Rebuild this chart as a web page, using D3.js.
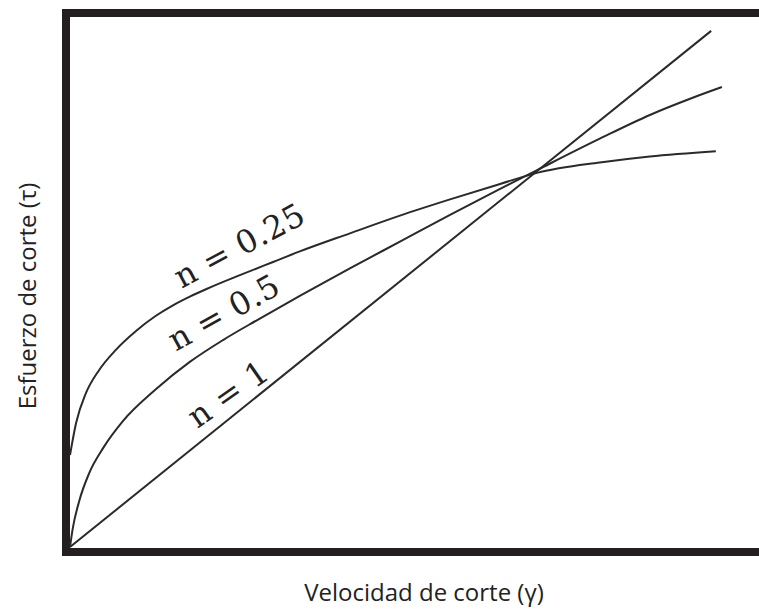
<!DOCTYPE html>
<html>
<head>
<meta charset="utf-8">
<script src="https://cdn.jsdelivr.net/npm/d3@7"></script>
<style>
    body { margin: 0; background: #fff; }
</style>
</head>
<body>
<div id="chart"></div>
<script>
// shear rate (gamma) and shear stress (tau)
const rate025 = [0, 0.013, 0.034, 0.062, 0.098, 0.141, 0.182, 0.220, 0.256, 0.293, 0.363, 0.434, 0.491, 0.598, 0.705, 0.812, 0.919, 1.000, 1.132, 1.239, 1.380]
const stress025 = [0.244, 0.329, 0.408, 0.469, 0.523, 0.573, 0.612, 0.641, 0.664, 0.685, 0.721, 0.756, 0.784, 0.832, 0.879, 0.922, 0.963, 0.993, 1.020, 1.036, 1.050]

const rate05 = [0, 0.006, 0.019, 0.041, 0.071, 0.113, 0.184, 0.256, 0.327, 0.400, 0.491, 0.598, 0.705, 0.812, 0.919, 1.000, 1.132, 1.239, 1.325, 1.393]
const stress05 = [0, 0.050, 0.119, 0.196, 0.263, 0.334, 0.419, 0.491, 0.549, 0.602, 0.666, 0.739, 0.810, 0.881, 0.950, 1.001, 1.083, 1.146, 1.189, 1.220]

const rate1 = [0, 1.370]
const stress1 = [0, 1.369]

const labels = ['n = 0.25', 'n = 0.5', 'n = 1']
const xTitle = 'Velocidad de corte (γ)'
const yTitle = 'Esfuerzo de corte (τ)'

// dimensions
const w = 759
const h = 609

const svg = d3.select('#chart')
    .append('svg')
    .attr('width', w)
    .attr('height', h)

// scales
const xScale = d3.scaleLinear()
    .domain([0, 1.5])
    .range([70, 772])

const yScale = d3.scaleLinear()
    .domain([0, 1.4])
    .range([547, 19.2])

// frame (right side runs off the page)
svg.append('rect')
    .attr('x', 66)
    .attr('y', 13)
    .attr('width', 800)
    .attr('height', 539)
    .attr('fill', 'none')
    .attr('stroke', '#231f20')
    .attr('stroke-width', 8)

const line = d3.line()
    .x(d => xScale(d[0]))
    .y(d => yScale(d[1]))
    .curve(d3.curveMonotoneX)

const series = [
    d3.zip(rate025, stress025),
    d3.zip(rate05, stress05),
    d3.zip(rate1, stress1)
]

svg.selectAll('path.curve')
    .data(series)
    .enter()
    .append('path')
    .attr('class', 'curve')
    .attr('d', line)
    .attr('fill', 'none')
    .attr('stroke', '#2a2a2a')
    .attr('stroke-width', 2)

// curve labels: anchor in data units, angle on screen
const labelPos = [
    { g: 0.238, t: 0.685, angle: -28 },
    { g: 0.226, t: 0.518, angle: -29 },
    { g: 0.272, t: 0.313, angle: -35 }
]

svg.selectAll('text.label')
    .data(labels)
    .enter()
    .append('text')
    .attr('class', 'label')
    .attr('transform', (d, i) => `translate(${xScale(labelPos[i].g)},${yScale(labelPos[i].t)}) rotate(${labelPos[i].angle})`)
    .attr('font-family', 'DejaVu Serif')
    .attr('font-size', 32)
    .attr('letter-spacing', 0.5)
    .attr('fill', '#222')
    .text(d => d)

// axis titles
svg.append('text')
    .attr('x', 424)
    .attr('y', 601)
    .attr('text-anchor', 'middle')
    .attr('font-family', 'Open Sans')
    .attr('font-size', 24)
    .attr('fill', '#222')
    .text(xTitle)

svg.append('text')
    .attr('transform', 'translate(36,296) rotate(-90)')
    .attr('text-anchor', 'middle')
    .attr('font-family', 'Open Sans')
    .attr('font-size', 24)
    .attr('fill', '#222')
    .text(yTitle)
</script>
</body>
</html>
